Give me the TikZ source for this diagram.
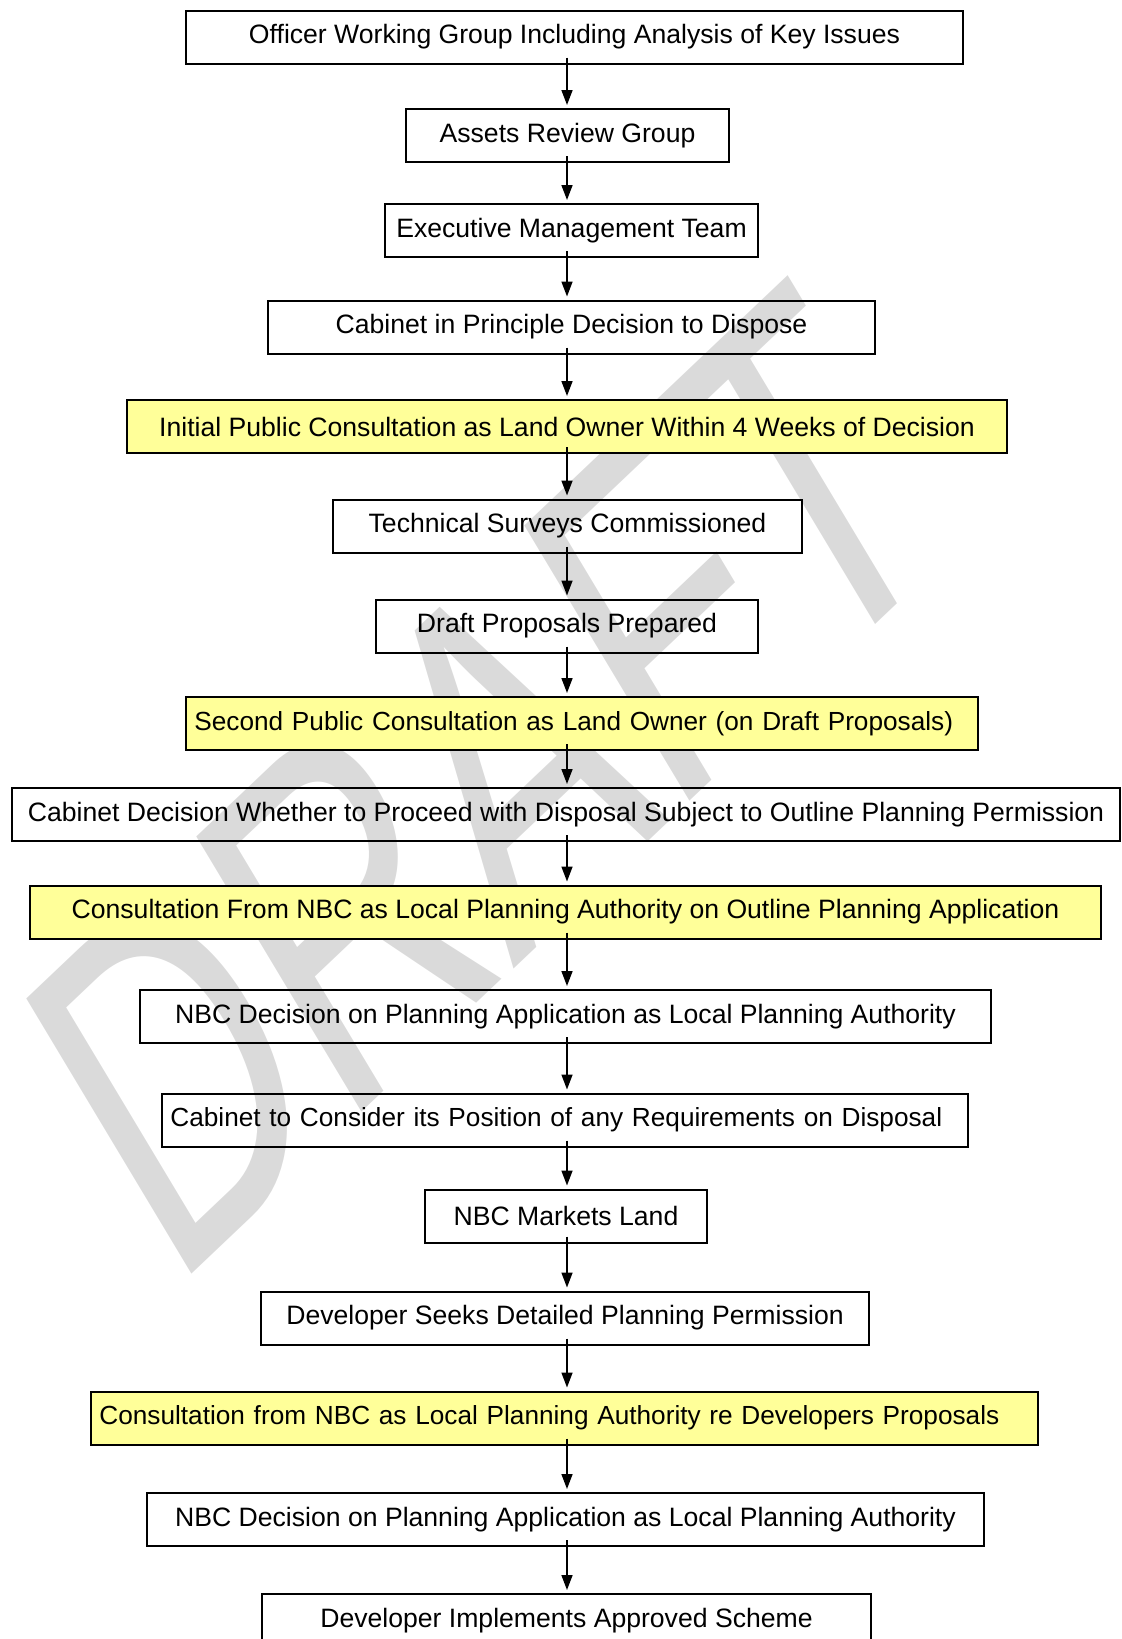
\documentclass[tikz,border=0pt]{standalone}
\usepackage{fontspec}
\setmainfont{Liberation Sans}
\usetikzlibrary{arrows.meta}
\definecolor{consultyellow}{RGB}{255,255,153}
\definecolor{draftgrey}{RGB}{218,218,218}
\tikzset{
  stage/.style={draw, line width=1pt, minimum height=26.5pt, inner sep=0pt,
    font=\fontsize{13.3}{16}\selectfont},
  consult/.style={stage, fill=consultyellow},
  lefttext/.style={align=left, font=\fontsize{13.1}{16}\selectfont},
  flow/.style={line width=0.8pt, shorten <=-3.5pt, shorten >=1.5pt,
    -{Triangle[length=7.5pt,width=5.5pt]}}
}

\begin{document}
\begin{tikzpicture}[x=0.5pt,y=-0.5pt]
  \useasboundingbox (0,0) rectangle (1121,1639);
  \clip (0,0) rectangle (1121,1639);
  % watermark behind everything
  \begin{scope}[shift={(172,1293)}, cm={1.18,1.12,-1.2,2.0,(0,0)}]
    \node[transform shape, anchor=base west, inner sep=0pt, text=draftgrey,
      font=\fontsize{100}{100}\selectfont] (draft) at (0,0) {DRAFT};
  \end{scope}
  \coordinate (spine) at (567,0);
  % the stages
  \node[stage, minimum width=388.5pt] (officer) at (574.5,37) {Officer Working Group Including Analysis of Key Issues};
  \node[stage, minimum width=161.5pt] (assets) at (567.5,135.5) {Assets Review Group};
  \node[stage, minimum width=186.5pt] (exec) at (571.5,230.5) {Executive Management Team};
  \node[stage, minimum width=303.5pt] (principle) at (571.5,327) {Cabinet in Principle Decision to Dispose};
  \node[consult, minimum width=440pt] (firstcons) at (567,426.5) {Initial Public Consultation as Land Owner Within 4 Weeks of Decision};
  \node[stage, minimum width=234.5pt] (surveys) at (567.5,526) {Technical Surveys Commissioned};
  \node[stage, minimum width=191pt] (draftprop) at (567,626) {Draft Proposals Prepared};
  \node[consult, lefttext, minimum width=396pt, text width=387.6pt] (secondcons) at (582,723.5) {Second Public Consultation as Land Owner (on Draft Proposals)};
  \node[stage, minimum width=554pt] (proceed) at (566,814.5) {Cabinet Decision Whether to Proceed with Disposal Subject to Outline Planning Permission};
  \node[consult, minimum width=535.5pt] (outlinecons) at (565.5,912) {Consultation From NBC as Local Planning Authority on Outline Planning Application};
  \node[stage, minimum width=425.5pt] (nbcdec) at (565.5,1016.5) {NBC Decision on Planning Application as Local Planning Authority};
  \node[stage, lefttext, minimum width=403pt, text width=394.6pt] (position) at (565,1120) {Cabinet to Consider its Position of any Requirements on Disposal};
  \node[stage, minimum width=141pt] (markets) at (566,1216) {NBC Markets Land};
  \node[stage, minimum width=304pt] (seeks) at (565,1318) {Developer Seeks Detailed Planning Permission};
  \node[consult, lefttext, minimum width=473.5pt, text width=465.1pt] (devcons) at (564.5,1418) {Consultation from NBC as Local Planning Authority re Developers Proposals};
  \node[stage, minimum width=418.5pt] (nbcdec2) at (565.5,1519.5) {NBC Decision on Planning Application as Local Planning Authority};
  \node[stage, minimum width=304.5pt] (implements) at (566.5,1620.5) {Developer Implements Approved Scheme};
  % connectors down the spine
  \foreach \a/\b in {officer/assets, assets/exec, exec/principle, principle/firstcons,
    firstcons/surveys, surveys/draftprop, draftprop/secondcons, secondcons/proceed,
    proceed/outlinecons, outlinecons/nbcdec, nbcdec/position, position/markets,
    markets/seeks, seeks/devcons, devcons/nbcdec2, nbcdec2/implements}
    \draw[flow] (\a.south -| spine) -- (\b.north -| spine);
\end{tikzpicture}
\end{document}
